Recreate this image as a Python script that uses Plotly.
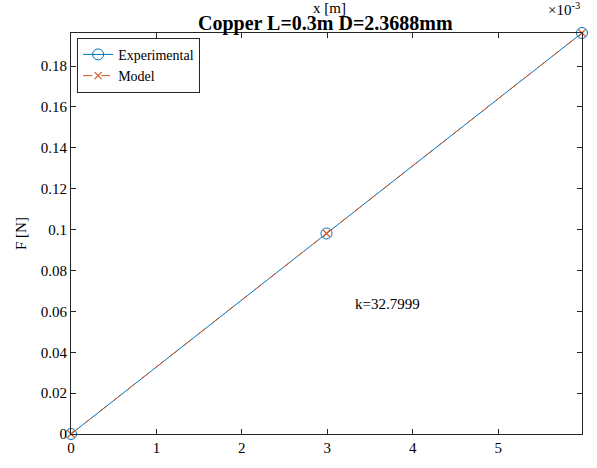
import plotly.graph_objects as go

# Spring test: displacement x [m] vs applied force F [N]
x_exp = [0.0, 0.0029909, 0.0059818]
f_exp = [0.0, 0.0981, 0.1962]
x_model = [0.0, 0.0029909, 0.0059818]
f_model = [0.0, 0.0981, 0.1962]
k_value = 32.7999

x_tick_labels = [0, 1, 2, 3, 4, 5]
y_tick_labels = [0, 0.02, 0.04, 0.06, 0.08, 0.1, 0.12, 0.14, 0.16, 0.18]

FONT = "Liberation Serif, Times New Roman, serif"
BLUE = "#0072BD"
ORANGE = "#D95319"

fig = go.Figure()
fig.add_trace(go.Scatter(
    x=x_exp, y=f_exp, mode="lines+markers", name="Experimental", cliponaxis=False,
    line=dict(color=BLUE, width=1),
    marker=dict(symbol="circle-open", size=11, color=BLUE, line=dict(width=1)),
))
fig.add_trace(go.Scatter(
    x=x_model, y=f_model, mode="lines+markers", name="Model", cliponaxis=False,
    line=dict(color=ORANGE, width=1, dash="dash"),
    marker=dict(symbol="x-thin-open", size=7, color=ORANGE, line=dict(width=1.2, color=ORANGE)),
))

fig.add_annotation(x=0.0037, y=0.0637, text=f"k={k_value}", showarrow=False,
                   font=dict(family=FONT, size=15, color="black"))
# x-axis label sits above the plot, pushed against the top edge
fig.add_annotation(xref="paper", yref="paper", x=0.505, y=1.0, yshift=35,
                   text="x [m]", showarrow=False, font=dict(family=FONT, size=15, color="black"))
fig.add_annotation(xref="paper", yref="paper", x=1.0, y=1.0, yshift=35, xanchor="right",
                   text="×10<sup>-3</sup>", showarrow=False,
                   font=dict(family=FONT, size=15, color="black"))

axis_common = dict(
    showline=True, linecolor="#262626", linewidth=1, mirror="ticks",
    ticks="inside", ticklen=5, tickcolor="#262626", showgrid=False, zeroline=False,
    tickfont=dict(family=FONT, size=15, color="black"),
)

fig.update_layout(
    width=597, height=468,
    margin=dict(l=71, r=15, t=33, b=27),
    paper_bgcolor="white", plot_bgcolor="white",
    title=dict(text="<b>Copper L=0.3m D=2.3688mm</b>", x=0.545, xanchor="center",
               y=0.950, yanchor="middle", font=dict(family=FONT, size=20, color="black")),
    xaxis=dict(range=[0, max(x_exp)], tickvals=[v * 1e-3 for v in x_tick_labels],
               ticktext=[str(v) for v in x_tick_labels], ticklabelstandoff=0, **axis_common),
    yaxis=dict(range=[0, max(f_exp)], tickvals=y_tick_labels,
               ticktext=[f"{v:g}" for v in y_tick_labels],
               title=dict(text="F [N]", font=dict(family=FONT, size=15, color="black"), standoff=10),
               **axis_common),
    legend=dict(x=0.012, y=0.988, xanchor="left", yanchor="top",
                bgcolor="white", bordercolor="#262626", borderwidth=1,
                font=dict(family=FONT, size=14, color="black"),
                itemwidth=30, tracegroupgap=0),
    showlegend=True,
)

fig.write_html("out.html")
